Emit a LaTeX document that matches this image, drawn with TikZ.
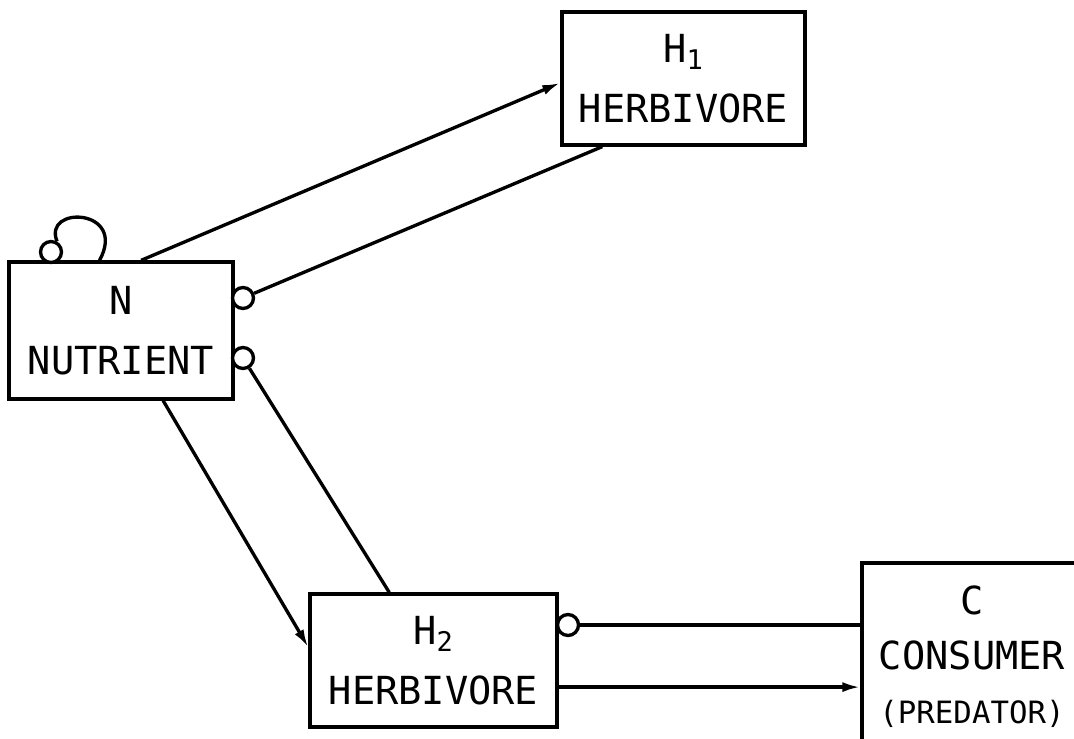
\documentclass[tikz,border=0pt]{standalone}
\usepackage{fontspec}
\setmainfont{DejaVu Sans Mono}
\usepackage{tikz}
\usetikzlibrary{arrows.meta}

\begin{document}
\begin{tikzpicture}[x=0.02cm, y=-0.02cm, line width=1.9pt,
  box/.style={draw, align=center, inner sep=0pt, font=\fontsize{22}{34}\selectfont, minimum height=2.66cm, minimum width=#1},
  box/.default=4.9cm,
  port/.style={draw, circle, fill=white, minimum size=0.42cm, inner sep=0pt},
  >={Latex[length=3.6mm,width=2mm]}]
\useasboundingbox (0,0) rectangle (1074,739);
\clip (0,0) rectangle (1074,739);
\node[box=4.48cm, minimum height=2.74cm] (N) at (121,330.5) {N\\NUTRIENT};
\node[box=4.86cm] (H1) at (683.5,78.5) {H\textsubscript{1}\\HERBIVORE};
\node[box=4.94cm] (H2) at (433.5,660.5) {H\textsubscript{2}\\HERBIVORE};
\node[box=4.4cm, minimum height=3.76cm, font=\fontsize{22}{31}\selectfont] (C) at (972,657) {C\\CONSUMER\\{\fontsize{17.5}{20}\selectfont(PREDATOR)}};
% open circles on the inhibiting links
\node[port] (loop) at (51,252) {};
\node[port] (p1) at (243,298) {};
\node[port] (p2) at (243,358) {};
\node[port] (p3) at (568,625) {};
\draw (loop.60) .. controls (42,205) and (128,208) .. (N.107);
\draw[->] (N.74.5) -- (H1.182);
\draw (H1.220) -- (p1);
\draw (p2) -- (H2.123);
\draw[->] (N.-59) -- (H2.174);
\draw (p3) -- (p3 -| C.west);
\draw[->] (H2.-12.6) -- (H2.-12.6 -| C.west);
\end{tikzpicture}
\end{document}
